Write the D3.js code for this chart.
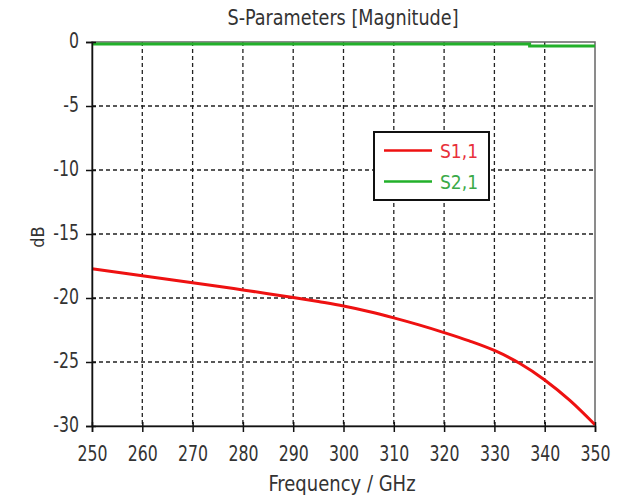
<!DOCTYPE html>
<html>
<head>
<meta charset="utf-8">
<script src="https://cdn.jsdelivr.net/npm/d3@7"></script>
<style>
  body { margin: 0; background: #fff; }
  text { font-family: "DejaVu Sans Condensed", "DejaVu Sans", sans-serif; }
</style>
</head>
<body>
<div class="canvas"></div>
<script>
// data
const freq = [250, 255, 260, 265, 270, 275, 280, 285, 290, 295, 300,
              305, 310, 315, 320, 325, 330, 335, 340, 345, 350];
const s11 = [-17.72, -17.99, -18.26, -18.53, -18.8, -19.08, -19.37, -19.66, -19.96, -20.28, -20.62,
             -21.05, -21.55, -22.1, -22.7, -23.35, -24.1, -25.1, -26.4, -28.0, -29.9];
const s21Freq = [250, 337, 337, 350];
const s21 = [-0.15, -0.15, -0.31, -0.31];
const xTicks = [250, 260, 270, 280, 290, 300, 310, 320, 330, 340, 350];
const yTicks = [0, -5, -10, -15, -20, -25, -30];

const width = 619;
const height = 497;
const margin = {top: 42, right: 24, bottom: 71, left: 92};
const graphWidth = width - margin.left - margin.right;
const graphHeight = height - margin.top - margin.bottom;

const svg = d3.select('.canvas')
  .append('svg')
  .attr('width', width)
  .attr('height', height);

const graph = svg.append('g')
  .attr('transform', `translate(${margin.left}, ${margin.top})`);

const x = d3.scaleLinear().domain([250, 350]).range([0, graphWidth]);
const y = d3.scaleLinear().domain([-30, 0]).range([graphHeight, 0]);

// grid
graph.append('g').selectAll('line')
  .data(xTicks.slice(1, -1))
  .enter().append('line')
  .attr('x1', d => x(d)).attr('x2', d => x(d))
  .attr('y1', 0).attr('y2', graphHeight)
  .attr('stroke', '#222').attr('stroke-width', 1.3)
  .attr('stroke-dasharray', '4,3');

graph.append('g').selectAll('line')
  .data(yTicks.slice(1, -1))
  .enter().append('line')
  .attr('x1', 0).attr('x2', graphWidth)
  .attr('y1', d => y(d)).attr('y2', d => y(d))
  .attr('stroke', '#222').attr('stroke-width', 1.3)
  .attr('stroke-dasharray', '4,3');

// frame
graph.append('rect')
  .attr('width', graphWidth).attr('height', graphHeight)
  .attr('fill', 'none').attr('stroke', '#666').attr('stroke-width', 1.5);

// curves
graph.append('path')
  .datum(s21Freq.map((f, i) => [f, s21[i]]))
  .attr('d', d3.line().x(d => x(d[0])).y(d => y(d[1])))
  .attr('fill', 'none').attr('stroke', '#22b02a').attr('stroke-width', 3);

graph.append('path')
  .datum(freq.map((f, i) => [f, s11[i]]))
  .attr('d', d3.line().curve(d3.curveMonotoneX).x(d => x(d[0])).y(d => y(d[1])))
  .attr('fill', 'none').attr('stroke', '#ee1111').attr('stroke-width', 3);

// axes
const gXAxis = graph.append('g')
  .attr('transform', `translate(0, ${graphHeight})`);
const gYAxis = graph.append('g');

gXAxis.call(d3.axisBottom(x).tickValues(xTicks).tickSize(6).tickPadding(11).tickFormat(d => d));
gYAxis.call(d3.axisLeft(y).tickValues(yTicks).tickSize(6).tickPadding(7).tickFormat(d => d));

[gXAxis, gYAxis].forEach(g => {
  g.select('.domain').attr('stroke', '#111').attr('stroke-width', 1.5);
  g.selectAll('.tick line').attr('stroke', '#111').attr('stroke-width', 1.5);
  g.selectAll('text')
    .style('font-size', '17.5px')
    .style('font-family', '"DejaVu Sans Condensed", "DejaVu Sans", sans-serif')
    .attr('fill', '#333')
    .attr('transform', 'scale(1,1.18)');
});
gYAxis.selectAll('text').attr('dy', '0.27em');
// ticks also poke into the plot a little
gXAxis.selectAll('.tick').append('line')
  .attr('y1', 0).attr('y2', -4).attr('stroke', '#111').attr('stroke-width', 1.5);
gYAxis.selectAll('.tick').append('line')
  .attr('x1', 0).attr('x2', 4).attr('stroke', '#111').attr('stroke-width', 1.5);

// title and labels
svg.append('text')
  .attr('transform', 'translate(343, 25) scale(1,1.07)')
  .attr('text-anchor', 'middle')
  .style('font-size', '19.6px')
  .attr('fill', '#333')
  .text('S-Parameters [Magnitude]');

svg.append('text')
  .attr('transform', 'translate(342, 491) scale(1,1.1)')
  .attr('text-anchor', 'middle')
  .style('font-size', '20px')
  .attr('fill', '#333')
  .text('Frequency / GHz');

svg.append('text')
  .attr('transform', 'translate(44, 237) rotate(-90)')
  .attr('text-anchor', 'middle')
  .style('font-size', '18px')
  .attr('fill', '#333')
  .text('dB');

// legend
const legend = svg.append('g').attr('transform', 'translate(374, 132)');
legend.append('rect')
  .attr('width', 115).attr('height', 68)
  .attr('fill', '#fff').attr('stroke', '#111').attr('stroke-width', 2);

const legendNames = ['S1,1', 'S2,1'];
const legendColors = ['#ee1111', '#22b02a'];
const legendText = ['#e8303a', '#3aaa48'];

legendNames.forEach((name, i) => {
  const yy = 18.5 + i * 31;
  legend.append('line')
    .attr('x1', 10).attr('x2', 58)
    .attr('y1', yy).attr('y2', yy)
    .attr('stroke', legendColors[i]).attr('stroke-width', 2.5);
  legend.append('text')
    .attr('x', 66).attr('y', yy + 7.5)
    .style('font-size', '19px')
    .attr('fill', legendText[i])
    .text(name);
});
</script>
</body>
</html>
